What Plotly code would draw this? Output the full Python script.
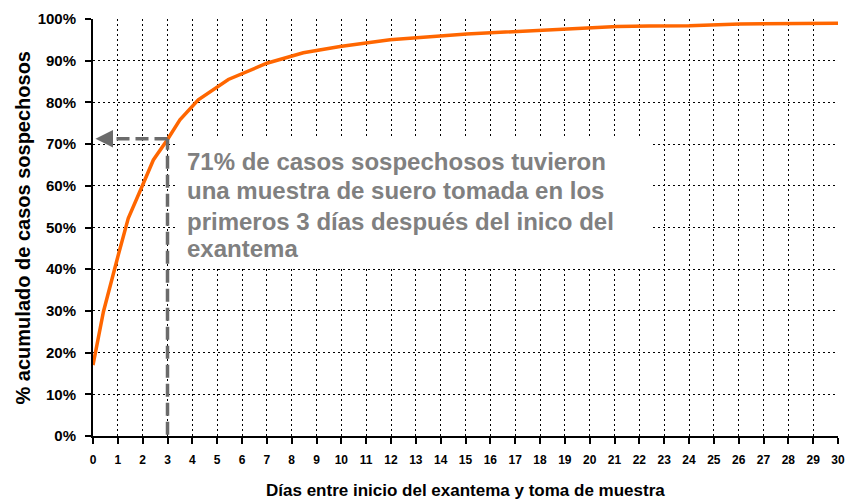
import plotly.graph_objects as go

# Data (days vs cumulative %)
dias = [0, 0.42, 1.0, 1.42, 2.0, 2.43, 3.0, 3.5, 4.24, 5.45, 7.0, 8.47, 9.95,
        10.95, 11.96, 15.05, 17.06, 21.1, 22.4, 24.0, 26.05, 28.0, 28.5, 30]
acumulado = [17.0, 29.8, 43.0, 52.2, 60.2, 66.2, 71.1, 75.8, 80.6, 85.5, 89.4, 91.9, 93.4,
             94.3, 95.0, 96.4, 97.0, 98.2, 98.3, 98.4, 98.8, 98.8, 99.0, 99.0]

dia_corte = 3
pct_corte = 71.3

x_ticks = list(range(0, 31))
y_ticks = list(range(0, 101, 10))

nota = ["71% de casos sospechosos tuvieron",
        "una muestra de suero tomada en los",
        "primeros 3 días después del inico del",
        "exantema"]
nota_y = [65.9, 58.8, 51.4, 44.9]

x_title = "Días entre inicio del exantema y toma de muestra"
y_title = "% acumulado de casos sospechosos"

FONT = "Liberation Sans, Arial, sans-serif"
GRAY = "#6b6b6b"
TEXT_GRAY = "#808080"

fig = go.Figure()
fig.add_trace(go.Scatter(x=dias, y=acumulado, mode="lines",
                         line=dict(color="#FF6600", width=3.5),
                         hoverinfo="skip", showlegend=False))

# white box behind the note (above grid, below data)
fig.add_shape(type="rect", xref="x", yref="y",
              x0=3.4, x1=22.5, y0=40.4, y1=71.2,
              fillcolor="white", line=dict(width=0), layer="between")

# dashed guide lines
fig.add_shape(type="line", xref="x", yref="y", x0=dia_corte, x1=dia_corte, y0=0.3, y1=pct_corte,
              line=dict(color=GRAY, width=3.5, dash="13px,6px"))
fig.add_shape(type="line", xref="x", yref="y", x0=dia_corte, x1=0.65, y0=pct_corte, y1=pct_corte,
              line=dict(color=GRAY, width=3.5, dash="13px,6px"))
fig.add_annotation(x=0.1, y=pct_corte, ax=0.75, ay=pct_corte, xref="x", yref="y",
                   axref="x", ayref="y", showarrow=True, arrowhead=2, arrowsize=1,
                   arrowwidth=3.5, arrowcolor=GRAY, text="")

for t, yy in zip(nota, nota_y):
    fig.add_annotation(x=3.72, y=yy, xref="x", yref="y", text=t, showarrow=False,
                       xanchor="left", yanchor="middle",
                       font=dict(family=FONT, size=24, color=TEXT_GRAY, weight=700))

# axis titles
fig.add_annotation(x=0.5, y=-0.1295, xref="paper", yref="paper", text=x_title,
                   showarrow=False, xanchor="center", yanchor="middle",
                   font=dict(family=FONT, size=17, color="black", weight=700))
fig.add_annotation(x=-0.094, y=0.5, xref="paper", yref="paper", text=y_title,
                   showarrow=False, xanchor="center", yanchor="middle", textangle=-90,
                   font=dict(family=FONT, size=20, color="black", weight=700))

fig.update_layout(
    width=849, height=501,
    margin=dict(l=93, r=11, t=19, b=65, autoexpand=False),
    paper_bgcolor="white", plot_bgcolor="white",
    font=dict(family=FONT, color="black"),
    xaxis=dict(range=[0, 30], tickmode="array", tickvals=x_ticks,
               ticktext=[str(v) for v in x_ticks], automargin=False,
               showgrid=True, gridcolor="black", gridwidth=1, griddash="2px,3px",
               zeroline=False, showline=True, linecolor="black", linewidth=2,
               ticks="outside", ticklen=6, tickwidth=2, tickcolor="black",
               ticklabelstandoff=6,
               tickfont=dict(family=FONT, size=12, color="black", weight=700),
               fixedrange=True),
    yaxis=dict(range=[0, 100], tickmode="array", tickvals=y_ticks,
               ticktext=[f"{v}%" for v in y_ticks], automargin=False,
               showgrid=True, gridcolor="black", gridwidth=1, griddash="2px,3px",
               zeroline=False, showline=True, linecolor="black", linewidth=2,
               ticks="outside", ticklen=6, tickwidth=2, tickcolor="black",
               ticklabelstandoff=6,
               tickfont=dict(family=FONT, size=15, color="black", weight=700),
               fixedrange=True),
)

fig.write_html("out.html", config={"displayModeBar": False},
               post_script="document.body.style.margin='0';")
